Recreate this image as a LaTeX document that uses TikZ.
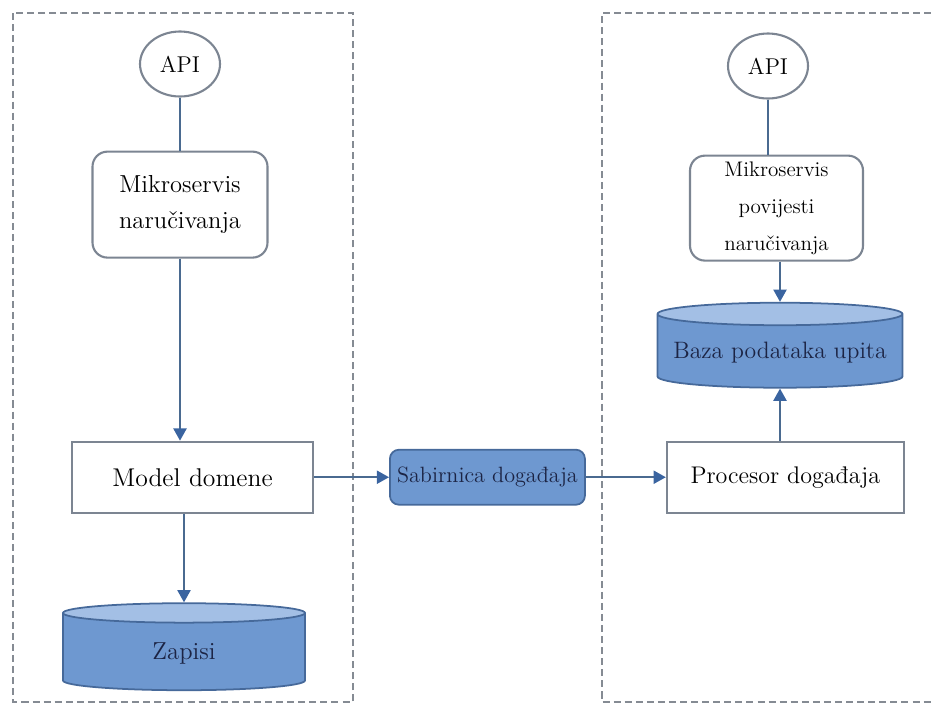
\documentclass[tikz,border=0pt]{standalone}
\usepackage{fontspec}
\usetikzlibrary{positioning, arrows.meta, shapes.geometric}
\definecolor{lineblue}{HTML}{4A6A90}
\definecolor{tipblue}{HTML}{3A64A0}
\definecolor{dbfill}{HTML}{6E98D0}
\definecolor{dbtop}{HTML}{A3BFE5}
\definecolor{dbdraw}{HTML}{46699A}
\definecolor{boxgray}{HTML}{7C8592}
\definecolor{framegray}{HTML}{858B93}
\definecolor{navy}{HTML}{1C2444}

\begin{document}
\begin{tikzpicture}[
        api/.style={ellipse, draw=boxgray, line width=1.2pt, fill=white, minimum width=1.6cm, minimum height=1.3cm, inner sep=0pt, font=\fontsize{13}{15}\selectfont},
        service/.style={rectangle, rounded corners=0.3cm, draw=boxgray, line width=1.2pt, fill=white, align=center, inner sep=2pt},
        block/.style={rectangle, draw=boxgray, line width=1.2pt, fill=white, minimum height=1.42cm},
        db/.style={cylinder, shape border rotate=90, draw=dbdraw, line width=1pt, cylinder uses custom fill, cylinder body fill=dbfill, cylinder end fill=dbtop, text=navy},
        bus/.style={rectangle, rounded corners=0.18cm, draw=dbdraw, line width=1pt, fill=dbfill, text=navy, minimum width=3.9cm, minimum height=1.1cm, font=\fontsize{12.6}{14}\selectfont},
        link/.style={line width=1.1pt, lineblue},
        arrow/.style={link, -{Triangle[length=7pt, width=7.5pt, color=tipblue]}},
        frame/.style={framegray, line width=1pt, dash pattern=on 4pt off 2.3pt}
    ]
        \useasboundingbox (0,0) rectangle (18.62,-14.08);

        % Frames
        \draw[frame] (0.26,-0.26) rectangle (7.06,-14.04);
        \draw[frame] (18.62,-0.26) -- (12.04,-0.26) -- (12.04,-14.04) -- (18.62,-14.04);

        % Order side
        \node[api] (api1) at (3.6,-1.28) {API};
        \node[service, below=1.06cm of api1, minimum width=3.5cm, minimum height=2.12cm, font=\fontsize{14}{20.5}\selectfont] (ms1) {Mikroservis\\naručivanja};
        \node[block, below=3.64cm of ms1, xshift=0.25cm, minimum width=4.82cm, font=\fontsize{14.6}{17}\selectfont] (md) {Model domene};
        \node[db, aspect=0.26, minimum width=4.84cm, minimum height=1.74cm, font=\fontsize{14}{16}\selectfont] (zap) at (3.68,-13.07) {Zapisi};

        % Bus
        \node[bus, right=1.5cm of md] (sab) {Sabirnica događaja};

        % History side
        \node[block, right=1.6cm of sab, minimum width=4.74cm, font=\fontsize{13.7}{16}\selectfont] (proc) {Procesor događaja};
        \node[api] (api2) at (15.36,-1.32) {API};
        \node[service, below=1.1cm of api2, xshift=0.17cm, minimum width=3.46cm, minimum height=2.1cm, font=\fontsize{12}{21}\selectfont] (ms2) {Mikroservis\\povijesti\\naručivanja};
        \node[db, aspect=0.1, minimum width=4.9cm, minimum height=1.7cm, font=\fontsize{13.5}{15}\selectfont] (baza) at (15.6,-7.06) {Baza podataka upita};

        % Connections
        \draw[link] (api1) -- (ms1);
        \draw[arrow] (ms1.south) -- (ms1.south |- md.north);
        \draw[arrow] (md.south -| zap) -- (zap);
        \draw[arrow] (md) -- (sab);
        \draw[arrow] (sab) -- (proc);
        \draw[link] (api2.south) -- (api2.south |- ms2.north);
        \draw[arrow] (ms2.south -| baza) -- (baza);
        \draw[arrow] (proc.north -| baza) -- (baza);
    \end{tikzpicture}
\end{document}
